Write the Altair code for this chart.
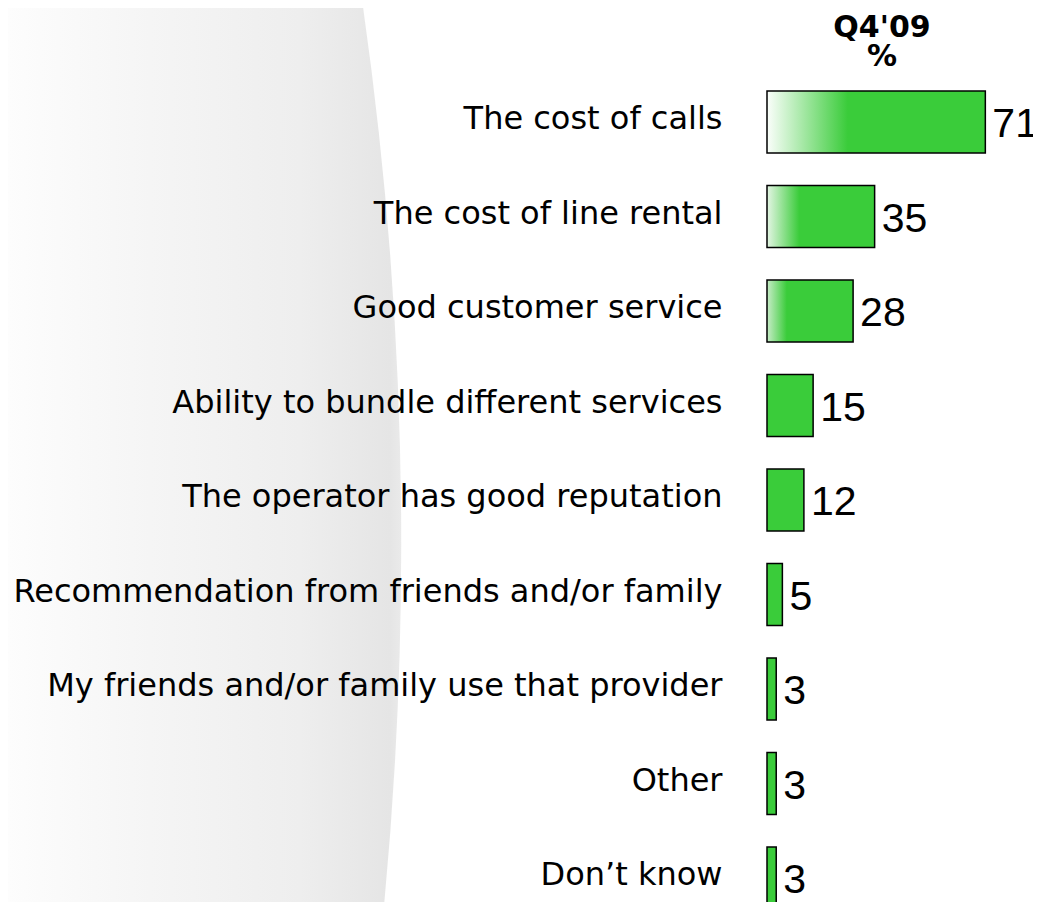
import altair as alt
import pandas as pd
import math

# ---- data ----
categories = [
    "The cost of calls",
    "The cost of line rental",
    "Good customer service",
    "Ability to bundle different services",
    "The operator has good reputation",
    "Recommendation from friends and/or family",
    "My friends and/or family use that provider",
    "Other",
    "Don\u2019t know",
]
values = [71, 35, 28, 15, 12, 5, 3, 3, 3]
title_top = "Q4'09"
title_unit = "%"

df = pd.DataFrame({"category": categories, "value": values})

GREEN = "#3acc3a"
LABEL_FONT = "DejaVu Sans"
VALUE_FONT = "Liberation Sans"

# plot geometry (pixels)
PAD_LEFT = 759
PAD_TOP = 66.75
PLOT_W = 266
PLOT_H = 827

y_enc = alt.Y(
    "category:N",
    sort=categories,
    scale=alt.Scale(range=[0, 850.5], paddingInner=0.344, paddingOuter=0.172),
    axis=alt.Axis(
        title=None, domain=False, ticks=False, labelFont=LABEL_FONT,
        labelFontSize=32, labelColor="black", labelPadding=45,
        labelLimit=0, zindex=1, labelOffset=-3,
    ),
)
x_enc = alt.X("value:Q", scale=alt.Scale(domain=[0, 86.5], nice=False, zero=True), axis=None)

base = alt.Chart(df)

# background decorative grey panel (large circular wedge with a soft gradient)
cx_page, r = -3426, 3827
def off(px):
    return (px - cx_page) / r

bg_grad = alt.Gradient(
    gradient="linear", x1=0, x2=1, y1=0, y2=0,
    stops=[
        alt.GradientStop(offset=0, color="#ffffff"),
        alt.GradientStop(offset=off(8), color="#fdfdfd"),
        alt.GradientStop(offset=off(40), color="#fbfbfb"),
        alt.GradientStop(offset=off(150), color="#f5f5f5"),
        alt.GradientStop(offset=off(300), color="#eeeeee"),
        alt.GradientStop(offset=off(390), color="#e5e5e5"),
        alt.GradientStop(offset=1, color="#eaeaea"),
    ],
)
bg = alt.Chart(pd.DataFrame({"k": [0]})).mark_arc(
    radius=r, theta=math.pi / 2 - 0.17, theta2=math.pi / 2 + 0.13,
    fill=bg_grad, strokeWidth=0,
).encode(
    x=alt.value(cx_page - (PAD_LEFT + 8)),
    y=alt.value(545 - (PAD_TOP + 8)),
)

def grad(start_color, end_offset):
    return alt.Gradient(
        gradient="linear", x1=0, x2=1, y1=0, y2=0,
        stops=[
            alt.GradientStop(offset=0, color=start_color),
            alt.GradientStop(offset=end_offset, color=GREEN),
            alt.GradientStop(offset=1, color=GREEN),
        ],
    )

grad_styles = {
    "The cost of calls": grad("#fbfefb", 0.37),
    "The cost of line rental": grad("#e4f5e4", 0.30),
    "Good customer service": grad("#c8ecc8", 0.23),
}

layers = [bg]
solid = base.transform_filter(
    alt.FieldOneOfPredicate(field="category", oneOf=[c for c in categories if c not in grad_styles])
).mark_bar(fill=GREEN, stroke="black", strokeWidth=1.5).encode(x=x_enc, y=y_enc)
layers.append(solid)
for cat, g in grad_styles.items():
    layers.append(
        base.transform_filter(alt.datum.category == cat)
        .mark_bar(fill=g, stroke="black", strokeWidth=1.5)
        .encode(x=x_enc, y=y_enc)
    )

labels = base.mark_text(
    align="left", baseline="middle", dx=7, dy=3, font=VALUE_FONT, fontSize=41, color="black"
).encode(x=x_enc, y=y_enc, text=alt.Text("value:Q"))
layers.append(labels)

one = pd.DataFrame({"k": [0]})
title_style = dict(align="center", baseline="alphabetic", font=LABEL_FONT,
                   fontWeight="bold", color="black")
t1 = alt.Chart(one).mark_text(fontSize=30, **title_style).encode(
    x=alt.value(115), y=alt.value(37 - (PAD_TOP + 8)), text=alt.value(title_top)
)
t2 = alt.Chart(one).mark_text(fontSize=30, **title_style).encode(
    x=alt.value(115), y=alt.value(66 - (PAD_TOP + 8)), text=alt.value(title_unit)
)
layers += [t1, t2]

chart = alt.layer(*layers).properties(
    width=PLOT_W, height=PLOT_H,
    autosize=alt.AutoSizeParams(type="none"),
    padding={"left": PAD_LEFT, "top": PAD_TOP, "right": 0, "bottom": 0},
    background="white",
).configure_view(stroke=None)

chart.save("out.html", embed_options={"renderer": "svg", "actions": False})
